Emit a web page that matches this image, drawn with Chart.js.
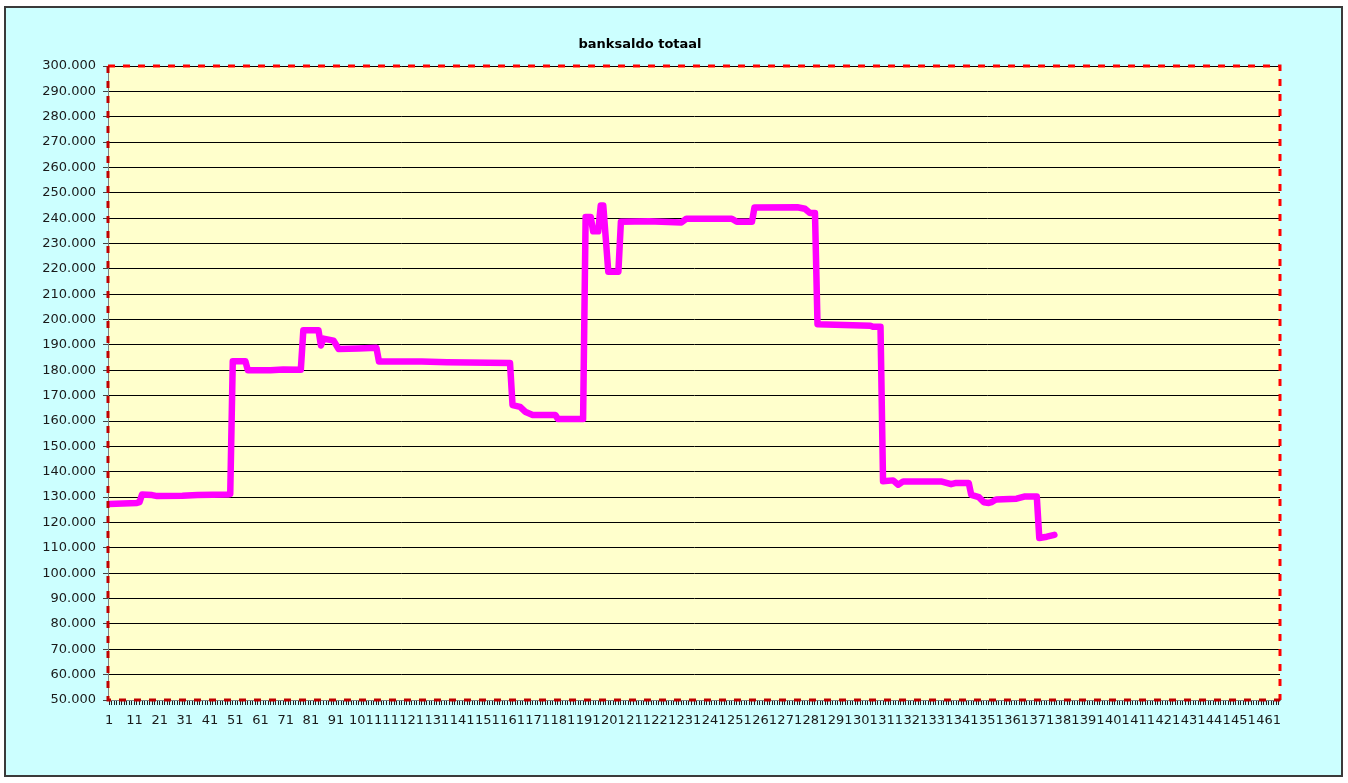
<!DOCTYPE html>
<html>
<head>
<meta charset="utf-8">
<title>banksaldo totaal</title>
<script src="https://cdn.jsdelivr.net/npm/chart.js@4"></script>
<style>
    html, body { margin: 0; padding: 0; background: #fff; }
    #chart { display: block; }
</style>
</head>
<body>
<canvas id="chart" width="1348" height="783"></canvas>
<script>
// day index (category number) where the balance changes, and the balance there
const days  = [1, 12, 13, 14, 18, 20, 30, 36, 48, 49, 50, 55, 56, 65, 70, 77, 78, 84, 85, 86,
               90, 92, 100, 107, 108, 125, 135, 160, 161, 164, 166, 169, 178, 179, 189, 190, 192, 193, 195, 196,
               197, 199, 203, 204, 215, 228, 230, 248, 250, 256, 257, 274, 277, 279, 281, 282, 303, 304, 307, 308,
               312, 314, 316, 331, 335, 337, 342, 343, 346, 348, 350, 351, 352, 353, 361, 364, 369, 370, 373, 376];
const saldo = [127300, 127700, 128000, 131000, 130800, 130400, 130500, 130800, 131000, 131200,
               183600, 183600, 180000, 180000, 180300, 180200, 195800, 195800, 189800, 192500,
               191700, 188400, 188600, 188900, 183500, 183500, 183200, 182900, 166300, 165600,
               163700, 162400, 162400, 160800, 160800, 240500, 240500, 234800, 234800, 245000,
               245000, 218900, 218900, 238600, 238800, 238300, 239800, 239800, 238600, 238600,
               244200, 244300, 243700, 242000, 242000, 198200, 197600, 197200, 197200, 136300,
               136600, 134900, 136200, 136200, 135100, 135600, 135600, 130900, 130000, 128000,
               127700, 128000, 128600, 129100, 129400, 130200, 130200, 113900, 114400, 115100];

const categoryCount = 465;      // categories on the x axis
const labelEvery = 10;          // 1, 11, 21, ... 461
const yMin = 50000, yMax = 300000, yStep = 10000;

function formatThousands(v) {
    return String(v).replace(/\B(?=(\d{3})+(?!\d))/g, '.');
}

// cyan frame, yellow plot area and dashed red plot border
const framePlugin = {
    id: 'frame',
    beforeDraw(chart) {
        const ctx = chart.ctx;
        const a = chart.chartArea;
        ctx.save();
        ctx.fillStyle = '#ffffff';
        ctx.fillRect(0, 0, chart.width, chart.height);
        ctx.fillStyle = '#ccffff';
        ctx.fillRect(5, 7, 1337, 769);
        ctx.lineWidth = 2;
        ctx.strokeStyle = '#3a3a3a';
        ctx.strokeRect(5, 7, 1337, 769);
        ctx.fillStyle = '#ffffcc';
        ctx.fillRect(a.left, a.top, a.right - a.left, a.bottom - a.top);
        ctx.restore();
    },
    afterDraw(chart) {
        const ctx = chart.ctx;
        const a = chart.chartArea;
        ctx.save();
        ctx.lineWidth = 3;
        ctx.setLineDash([7, 8]);
        ctx.strokeStyle = '#ff0000';
        ctx.beginPath();
        ctx.moveTo(a.left, a.top);
        ctx.lineTo(a.right, a.top);
        ctx.lineTo(a.right, a.bottom);
        ctx.stroke();
        ctx.strokeStyle = '#c00000';
        ctx.beginPath();
        ctx.moveTo(a.left, a.top);
        ctx.lineTo(a.left, a.bottom);
        ctx.lineTo(a.right, a.bottom);
        ctx.stroke();
        ctx.restore();
    }
};

const ctx = document.getElementById('chart').getContext('2d');

new Chart(ctx, {
    type: 'line',
    data: {
        datasets: [{
            label: 'banksaldo',
            data: days.map((d, i) => ({ x: d, y: saldo[i] })),
            borderColor: '#ff00ff',
            borderWidth: 6.5,
            borderJoinStyle: 'round',
            borderCapStyle: 'round',
            pointRadius: 0,
            tension: 0,
            fill: false
        }]
    },
    options: {
        responsive: false,
        animation: false,
        events: [],
        layout: {
            padding: { top: 7, right: 68, bottom: 0, left: 0 }
        },
        plugins: {
            legend: { display: false },
            tooltip: { enabled: false },
            title: {
                display: true,
                text: 'banksaldo totaal',
                color: '#000',
                font: { family: 'DejaVu Sans', size: 13, weight: 'bold' },
                padding: { top: 30, bottom: 13.4 }
            }
        },
        scales: {
            x: {
                type: 'linear',
                min: 0.5,
                max: categoryCount + 0.5,
                afterBuildTicks(scale) {
                    const ticks = [];
                    for (let v = 1; v <= categoryCount; v++) {
                        ticks.push({ value: v });
                    }
                    scale.ticks = ticks;
                },
                afterFit(scale) {
                    scale.height = 83;
                },
                grid: {
                    drawOnChartArea: false,
                    color: '#222',
                    tickLength: 5
                },
                border: { display: true, color: '#808080' },
                ticks: {
                    autoSkip: false,
                    maxRotation: 0,
                    minRotation: 0,
                    padding: 8,
                    color: '#1a1a1a',
                    font: { family: 'DejaVu Sans', size: 13 },
                    callback: (v) => ((v - 1) % labelEvery === 0 ? String(v) : '')
                }
            },
            y: {
                min: yMin,
                max: yMax,
                afterFit(scale) {
                    scale.width = 108;
                },
                grid: {
                    color: '#000',
                    tickColor: '#444',
                    tickLength: 5
                },
                border: { display: true, color: '#808080' },
                ticks: {
                    stepSize: yStep,
                    padding: 7,
                    color: '#1a1a1a',
                    font: { family: 'DejaVu Sans', size: 13 },
                    callback: (v) => formatThousands(v)
                }
            }
        }
    },
    plugins: [framePlugin]
});
</script>
</body>
</html>
